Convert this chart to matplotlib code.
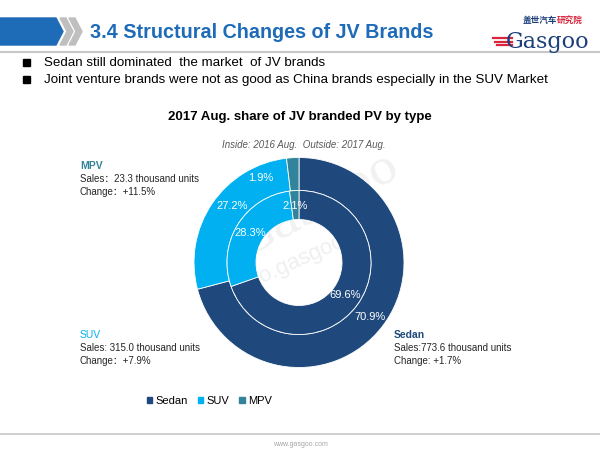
import numpy as np
import matplotlib.pyplot as plt
from matplotlib.patches import Polygon, Rectangle, Patch

plt.rcParams['font.family'] = ['Liberation Sans', 'Noto Sans CJK SC', 'DejaVu Sans']

# data
types = ['Sedan', 'SUV', 'MPV']
share_2017 = [70.9, 27.2, 1.9]   # outside ring
share_2016 = [69.6, 28.3, 2.1]   # inside ring
sales = ['773.6', '315.0', '23.3']
change = ['+1.7%', '+7.9%', '+11.5%']
colors = ['#1F497D', '#00B0F0', '#31849B']

W, H = 600, 450
fig = plt.figure(figsize=(6, 4.5), dpi=100)

# full-figure pixel axes for header / text
bg = fig.add_axes([0, 0, 1, 1])
bg.set_xlim(0, W)
bg.set_ylim(H, 0)
bg.axis('off')

# header block with chevrons
bg.add_patch(Polygon([[0, 18], [56, 18], [63, 31.5], [56, 45], [0, 45]],
                     closed=True, color='#1E6BB8'))
for x0 in (60, 69):
    bg.add_patch(Polygon([[x0, 18], [x0 + 6, 18], [x0 + 13, 31.5], [x0 + 6, 45],
                          [x0, 45], [x0 + 7, 31.5]], closed=True, color='#BFBFBF'))
bg.text(90, 33, '3.4 Structural Changes of JV Brands', fontsize=14.2, fontweight='bold',
        color='#1E6BB8', va='center', ha='left')
bg.plot([0, W], [52, 52], color='#C8C8C8', lw=1.5)

# logo
bg.text(548, 48, 'Gasgoo', fontsize=16, family='DejaVu Serif', color='#1C3F7A',
        ha='center', va='baseline')
for i, y in enumerate((38, 41.5, 45)):
    bg.plot([493 + i * 2, 512], [y, y], color='#D7263D', lw=1.6)
bg.text(523, 20, '盖世汽车', fontsize=6.2, color='#1C3F7A', va='center', ha='left',
        family=['Noto Sans CJK SC'], fontweight='bold')
bg.text(557, 20, '研究院', fontsize=6.2, color='#D7263D', va='center', ha='left',
        family=['Noto Sans CJK SC'], fontweight='bold')

# bullets
bullets = ['Sedan still dominated  the market  of JV brands',
           'Joint venture brands were not as good as China brands especially in the SUV Market']
for i, b in enumerate(bullets):
    y = 63 + i * 17
    bg.add_patch(Rectangle((23, y - 4), 7, 7, color='black'))
    bg.text(44, y, b, fontsize=9.6, va='center', ha='left', color='black')

# chart titles
bg.text(300, 117, '2017 Aug. share of JV branded PV by type', fontsize=9.5,
        fontweight='bold', ha='center', va='center')
bg.text(304, 145, 'Inside: 2016 Aug.  Outside: 2017 Aug.', fontsize=7, style='italic',
        color='#595959', ha='center', va='center')

# annotations
ann = {'MPV': (80, 166, colors[2], '：', '：'),
       'SUV': (80, 335, colors[1], ': ', '：'),
       'Sedan': (394, 335, colors[0], ':', ': ')}
for k, (x, y, c, s1, s2) in ann.items():
    i = types.index(k)
    bg.text(x, y, k, fontsize=7.5, fontweight='bold' if k != 'SUV' else 'normal',
            color=c, va='center', ha='left')
    bg.text(x, y + 13, 'Sales' + s1 + sales[i] + ' thousand units', fontsize=7,
            color='#262626', va='center', ha='left')
    bg.text(x, y + 26, 'Change' + s2 + change[i], fontsize=7,
            color='#262626', va='center', ha='left')

# footer
bg.plot([0, W], [434, 434], color='#C8C8C8', lw=1.2)
bg.text(300, 444, 'www.gasgoo.com', fontsize=5, color='#A6A6A6', ha='center', va='center')

# donut
cx, cy, R = 299, 262.5, 105
ax = fig.add_axes([(cx - R) / W, (H - cy - R) / H, 2 * R / W, 2 * R / H])
r_mid, r_hole = 72 / R, 43 / R
wp = dict(edgecolor='white', linewidth=0.6)
outer, _ = ax.pie(share_2017, radius=1, colors=colors, startangle=90, counterclock=False,
                  wedgeprops=dict(width=1 - r_mid, **wp))
inner, _ = ax.pie(share_2016, radius=r_mid, colors=colors, startangle=90, counterclock=False,
                  wedgeprops=dict(width=r_mid - r_hole, **wp))
ax.set_xlim(-1, 1)
ax.set_ylim(-1, 1)
ax.set_aspect('equal')

def put_labels(wedges, vals, r, shift=None):
    for j, (w, v) in enumerate(zip(wedges, vals)):
        ang = np.deg2rad((w.theta1 + w.theta2) / 2)
        if shift and j in shift:
            ang += np.deg2rad(shift[j][0])
            rr = shift[j][1]
        else:
            rr = r
        ax.text(rr * np.cos(ang), rr * np.sin(ang), f'{v:.1f}%', color='white',
                fontsize=8, ha='center', va='center')

put_labels(outer, share_2017, 0.85, shift={1: (-6, 0.83), 2: (21, 0.88)})
put_labels(inner, share_2016, 0.54)

# watermark (faint)
bg.text(310, 256, 'auto.gasgoo.com', fontsize=16, rotation=24, color='#8a9099', alpha=0.14,
        ha='center', va='center')
bg.text(318, 205, 'Gasgoo', fontsize=34, family='DejaVu Serif', rotation=28,
        color='#8a9099', alpha=0.12, ha='center', va='center')

# legend
handles = [Patch(color=c, label=t) for c, t in zip(colors, types)]
fig.legend(handles=handles, loc='center left', bbox_to_anchor=(141 / W, 1 - 401 / H),
           ncol=3, frameon=False, fontsize=8, handlelength=0.5, handleheight=0.5,
           handletextpad=0.3, columnspacing=0.9, borderpad=0)

fig.savefig('out.png', dpi=100)
